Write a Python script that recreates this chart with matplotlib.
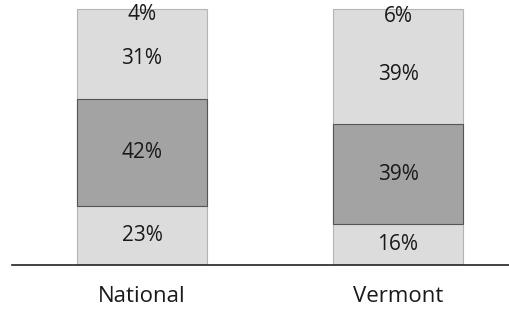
import matplotlib
matplotlib.use("Agg")
import matplotlib.pyplot as plt
import numpy as np

plt.rcParams['font.family'] = ['Open Sans', 'DejaVu Sans']

# ── data ────────────────────────────────────────────────────────────────────
groups = ["National", "Vermont"]
seg1 = [23, 16]
seg2 = [42, 39]
seg3 = [31, 39]
seg4 = [4, 6]

C_LIGHT = "#dcdcdc"
C_DARK = "#a3a3a3"
C_EDGE_L = "#b5b5b5"
C_EDGE_D = "#555555"

fig = plt.figure(figsize=(5.1, 3.16), dpi=100)
ax = fig.add_axes([12 / 510, 51 / 316, 1 - 12 / 510, 265 / 316])
x = np.arange(len(groups))
w = 0.508

series = [seg1, seg2, seg3, seg4]
colors = [C_LIGHT, C_DARK, C_LIGHT, C_LIGHT]
edges = ["none", C_EDGE_D, "none", "none"]
zs = [1, 3, 1, 1]
bottom = np.zeros(len(groups))
for vals, col, ec, z in zip(series, colors, edges, zs):
    vals = np.array(vals)
    ax.bar(x, vals, w, bottom=bottom, color=col, edgecolor=ec,
           linewidth=0.8, zorder=z)
    for xi, b, v in zip(x, bottom, vals):
        ax.text(xi, b + v / 2, f"{v}%", ha="center", va="center",
                fontsize=15, color="#1a1a1a", zorder=4)
    bottom = bottom + vals

# light outline around each whole stack
ax.bar(x, bottom, w, fill=False, edgecolor=C_EDGE_L, linewidth=0.8, zorder=2)

ax.set_xlim(-0.508, 1.4375)
ax.set_ylim(0, 103.5)
for s in ["top", "right", "left"]:
    ax.spines[s].set_visible(False)
ax.spines["bottom"].set_color("#222222")
ax.spines["bottom"].set_linewidth(1.2)
ax.spines["bottom"].set_zorder(5)
ax.set_yticks([])
ax.set_xticks(x)
ax.set_xticklabels(groups, fontsize=16, color="#1a1a1a")
ax.tick_params(axis="x", length=0, pad=15)

fig.savefig("out.png", dpi=100, facecolor="white")
